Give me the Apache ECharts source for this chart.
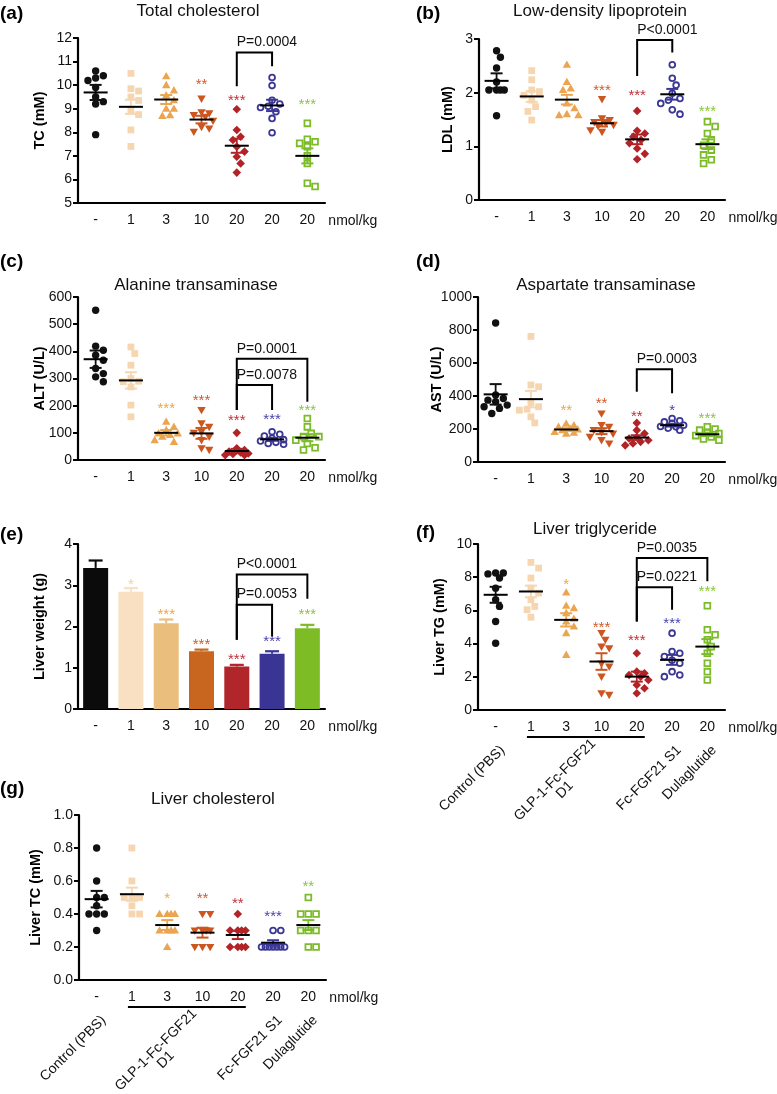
<!DOCTYPE html>
<html><head><meta charset="utf-8">
<script src="https://cdn.jsdelivr.net/npm/echarts@6/dist/echarts.min.js"></script>
<style>html,body{margin:0;padding:0;background:#fff}#c{width:777px;height:1094px}</style>
</head><body><div id="c"></div>
<script>
// ---------------- DATA ----------------
const categories = ['-', '1', '3', '10', '20', '20', '20'];
const drugLabels = ['Control (PBS)', 'GLP-1-Fc-FGF21\nD1', 'Fc-FGF21 S1', 'Dulaglutide'];

// (a) Total cholesterol (mM)
const tcValues = [
  [10.6, 10.4, 10.3, 10.2, 9.9, 9.5, 9.3, 9.2, 7.9],
  [10.5, 9.85, 9.75, 9.5, 9.35, 8.95, 8.75, 8.1, 7.4],
  [10.38, 10.0, 9.78, 9.57, 9.36, 9.0, 9.0, 8.73, 8.7],
  [9.43, 8.85, 8.8, 8.73, 8.66, 8.49, 8.23, 8.16, 8.02],
  [8.98, 8.1, 7.81, 7.67, 7.39, 7.18, 6.96, 6.68, 6.29],
  [10.32, 9.98, 9.36, 9.2, 9.1, 9.05, 8.87, 8.59, 7.98],
  [8.38, 7.7, 7.6, 7.53, 7.39, 7.0, 6.68, 5.84, 5.7]
];
const tcMean = [9.69, 9.08, 9.39, 8.54, 7.43, 9.14, 7.0];
const tcSem = [0.32, 0.3, 0.19, 0.16, 0.3, 0.24, 0.32];
const tcStars = ['', '', '', '**', '***', '', '***'];
const tcStarAt = [0, 0, 0, 10.18, 9.5, 0, 9.32];
const tcBrackets = [[4, 5, 11.38, 9.95, 10.8, 'P=0.0004']];

// (b) LDL (mM)
const ldlValues = [
  [2.78, 2.66, 2.46, 2.2, 2.05, 2.05, 2.05, 2.05, 1.57],
  [2.41, 2.24, 2.05, 2.02, 1.95, 1.86, 1.74, 1.65, 1.49],
  [2.52, 2.2, 2.08, 2.05, 1.8, 1.71, 1.6, 1.58, 1.58],
  [1.88, 1.52, 1.49, 1.45, 1.43, 1.4, 1.38, 1.3, 1.27],
  [1.66, 1.29, 1.24, 1.18, 1.12, 1.06, 0.96, 0.86, 0.76],
  [2.52, 2.27, 2.14, 1.99, 1.89, 1.86, 1.8, 1.68, 1.6],
  [1.46, 1.37, 1.24, 1.12, 1.02, 0.93, 0.84, 0.75, 0.68]
];
const ldlMean = [2.22, 1.93, 1.87, 1.43, 1.13, 1.97, 1.04];
const ldlSem = [0.14, 0.1, 0.09, 0.06, 0.09, 0.1, 0.09];
const ldlStars = ['', '', '', '***', '***', '', '***'];
const ldlStarAt = [0, 0, 0, 2.1, 2.02, 0, 1.71];
const ldlBrackets = [[4, 5, 2.98, 2.31, 2.75, 'P<0.0001']];

// (c) ALT (U/L)
const altValues = [
  [551, 419, 404, 386, 367, 337, 318, 306, 288],
  [416, 392, 349, 300, 290, 288, 269, 202, 159],
  [141, 122, 110, 98, 98, 92, 86, 73, 67],
  [184, 135, 122, 104, 100, 86, 73, 43, 37],
  [100, 43, 37, 31, 28, 24, 22, 18, 18],
  [104, 95, 88, 80, 75, 70, 65, 61, 58],
  [153, 122, 98, 86, 86, 73, 61, 45, 37]
];
const altMean = [371, 293, 100, 98, 33, 76, 82];
const altSem = [32, 30, 10, 20, 8, 5, 13];
const altStars = ['', '', '***', '***', '***', '***', '***'];
const altStarAt = [0, 0, 202, 233, 159, 163, 196];
const altBrackets = [[4, 6, 373, 184, 214, 'P=0.0001'], [4, 5, 276, 184, 184, 'P=0.0078']];

// (d) AST (U/L)
const astValues = [
  [842, 406, 385, 375, 365, 345, 335, 325, 294],
  [761, 467, 456, 360, 335, 320, 314, 274, 237],
  [233, 223, 213, 203, 197, 193, 183, 178, 172],
  [294, 223, 213, 193, 180, 172, 152, 132, 112],
  [237, 193, 172, 150, 142, 132, 122, 112, 101],
  [264, 250, 243, 235, 223, 215, 213, 205, 193],
  [213, 200, 193, 180, 172, 160, 152, 140, 132]
];
const astMean = [410, 381, 197, 187, 148, 223, 168];
const astSem = [62, 50, 8, 18, 14, 8, 10];
const astStars = ['', '', '**', '**', '**', '*', '***'];
const astStarAt = [0, 0, 335, 375, 298, 335, 284];
const astBrackets = [[4, 5, 562, 426, 416, 'P=0.0003']];

// (e) Liver weight (g) — bars
const lwMean = [3.42, 2.84, 2.08, 1.40, 1.03, 1.34, 1.96];
const lwSem = [0.18, 0.09, 0.09, 0.04, 0.04, 0.06, 0.08];
const lwStars = ['', '*', '***', '***', '***', '***', '***'];
const lwStarAt = [0, 3.1, 2.37, 1.66, 1.29, 1.72, 2.37];
const lwBrackets = [[4, 6, 3.26, 1.68, 2.67, 'P<0.0001'], [4, 5, 2.53, 1.68, 1.76, 'P=0.0053']];

// (f) Liver TG (mM)
const ltgValues = [
  [8.25, 8.25, 8.2, 7.95, 7.34, 6.64, 6.24, 5.33, 4.02],
  [8.89, 8.55, 7.95, 7.34, 7.04, 6.64, 6.24, 6.04, 5.59],
  [7.08, 6.28, 6.14, 5.84, 5.5, 5.33, 5.03, 4.63, 3.32],
  [4.63, 4.23, 3.82, 3.72, 2.8, 2.62, 2.01, 1.01, 0.91],
  [3.42, 2.31, 2.21, 2.11, 2.0, 1.81, 1.51, 1.31, 1.01],
  [4.63, 3.52, 3.42, 3.22, 3.0, 2.82, 2.31, 2.11, 2.01],
  [6.28, 4.83, 4.53, 4.23, 3.82, 3.42, 2.82, 2.31, 1.81]
];
const ltgMean = [6.94, 7.14, 5.43, 2.92, 2.01, 3.02, 3.82];
const ltgSem = [0.48, 0.35, 0.4, 0.5, 0.3, 0.3, 0.45];
const ltgStars = ['', '', '*', '***', '***', '***', '***'];
const ltgStarAt = [0, 0, 7.75, 5.17, 4.43, 5.43, 7.34];
const ltgBrackets = [[4, 6, 9.15, 5.33, 7.75, 'P=0.0035'], [4, 5, 7.4, 5.33, 6.04, 'P=0.0221']];

// (g) Liver TC (mM)
const ltcValues = [
  [0.8, 0.6, 0.5, 0.5, 0.45, 0.4, 0.4, 0.4, 0.3],
  [0.8, 0.6, 0.5, 0.5, 0.5, 0.5, 0.45, 0.4, 0.4],
  [0.4, 0.4, 0.4, 0.4, 0.3, 0.3, 0.3, 0.3, 0.2],
  [0.4, 0.4, 0.3, 0.3, 0.3, 0.3, 0.2, 0.2, 0.2],
  [0.4, 0.3, 0.3, 0.3, 0.3, 0.2, 0.2, 0.2, 0.2],
  [0.3, 0.3, 0.2, 0.2, 0.2, 0.2, 0.2, 0.2, 0.2],
  [0.5, 0.4, 0.4, 0.4, 0.3, 0.3, 0.3, 0.2, 0.2]
];
const ltcMean = [0.49, 0.52, 0.333, 0.287, 0.273, 0.226, 0.333];
const ltcSem = [0.05, 0.04, 0.03, 0.03, 0.025, 0.015, 0.03];
const ltcStars = ['', '', '*', '**', '**', '***', '**'];
const ltcStarAt = [0, 0, 0.515, 0.515, 0.485, 0.408, 0.59];

// ---------------- STYLE ----------------
const FONT = '"Liberation Sans", Arial, Helvetica, sans-serif';
const groupColors = ['#111111', '#f6d6b1', '#eba550', '#cc5620', '#b22327', '#3b3795', '#7cbc2b'];
const barColors = ['#0b0b0b', '#f9e0c2', '#eabe7c', '#c8661f', '#b0262a', '#3a3594', '#7dbc25'];
const starColors = ['#111111', '#f2cfa2', '#eba849', '#d35b2b', '#c0303a', '#4944ad', '#8ac63c'];
const markerShapes = ['circle', 'square', 'triangle', 'triangleDown', 'diamond', 'ringCircle', 'ringSquare'];

const panels = [
  {label: '(a)', title: 'Total cholesterol', yName: 'TC (mM)', kind: 'dots', values: tcValues, mean: tcMean, sem: tcSem, stars: tcStars, starAt: tcStarAt, brackets: tcBrackets, y: {min: 5, max: 12, interval: 1}},
  {label: '(b)', title: 'Low-density lipoprotein', yName: 'LDL (mM)', kind: 'dots', values: ldlValues, mean: ldlMean, sem: ldlSem, stars: ldlStars, starAt: ldlStarAt, brackets: ldlBrackets, y: {min: 0, max: 3, interval: 1}},
  {label: '(c)', title: 'Alanine transaminase', yName: 'ALT (U/L)', kind: 'dots', values: altValues, mean: altMean, sem: altSem, stars: altStars, starAt: altStarAt, brackets: altBrackets, y: {min: 0, max: 600, interval: 100}},
  {label: '(d)', title: 'Aspartate transaminase', yName: 'AST (U/L)', kind: 'dots', values: astValues, mean: astMean, sem: astSem, stars: astStars, starAt: astStarAt, brackets: astBrackets, y: {min: 0, max: 1000, interval: 200}},
  {label: '(e)', title: '', yName: 'Liver weight (g)', kind: 'bars', values: null, mean: lwMean, sem: lwSem, stars: lwStars, starAt: lwStarAt, brackets: lwBrackets, y: {min: 0, max: 4, interval: 1}},
  {label: '(f)', title: 'Liver triglyceride', yName: 'Liver TG (mM)', kind: 'dots', values: ltgValues, mean: ltgMean, sem: ltgSem, stars: ltgStars, starAt: ltgStarAt, brackets: ltgBrackets, y: {min: 0, max: 10, interval: 2}, drugs: true},
  {label: '(g)', title: 'Liver cholesterol', yName: 'Liver TC (mM)', kind: 'dots', values: ltcValues, mean: ltcMean, sem: ltcSem, stars: ltcStars, starAt: ltcStarAt, brackets: [], y: {min: 0, max: 1, interval: 0.2, fmt: 1}, drugs: true}
];

const layouts = [
  {grid: {left: 78, top: 38, width: 247, height: 165}, lab: [0, 14], tit: [198, 11], yn: 40},
  {grid: {left: 479, top: 39, width: 246, height: 161}, lab: [416, 14], tit: [600, 11], yn: 448},
  {grid: {left: 78, top: 297, width: 247, height: 163}, lab: [0, 262], tit: [196, 285], yn: 40},
  {grid: {left: 478, top: 297, width: 247, height: 165}, lab: [416, 262], tit: [606, 285], yn: 437},
  {grid: {left: 78, top: 544, width: 247, height: 165}, lab: [0, 535], tit: [0, 0], yn: 40},
  {grid: {left: 478, top: 544, width: 247, height: 166}, lab: [416, 533], tit: [595, 529], yn: 440},
  {grid: {left: 79, top: 815, width: 247, height: 165}, lab: [0, 789], tit: [213, 799], yn: 36}
];

// ---------------- HELPERS ----------------
function swarm(ys, d, maxOff) {
  const placed = [], offs = [];
  const step = d * 0.55;
  const cands = [0];
  for (let k = 1; k <= 8; k++) { cands.push(k * step, -k * step); }
  ys.forEach((y, i) => {
    let best = 0, bestScore = -Infinity;
    for (const dx of cands) {
      if (Math.abs(dx) > maxOff) continue;
      let minD = Infinity;
      for (const p of placed) { const dd = Math.hypot(p[0] - dx, p[1] - y); if (dd < minD) minD = dd; }
      if (minD >= d) { best = dx; break; }
      if (minD > bestScore) { bestScore = minD; best = dx; }
    }
    placed.push([best, y]); offs[i] = best;
  });
  return offs;
}

function marker(gi, x, y) {
  const c = groupColors[gi];
  switch (markerShapes[gi]) {
    case 'circle': return {type: 'circle', shape: {cx: x, cy: y, r: 3.7}, style: {fill: c}};
    case 'square': return {type: 'rect', shape: {x: x - 3.4, y: y - 3.4, width: 6.8, height: 6.8}, style: {fill: c}};
    case 'triangle': return {type: 'polygon', shape: {points: [[x, y - 4.3], [x + 4.2, y + 3.1], [x - 4.2, y + 3.1]]}, style: {fill: c}};
    case 'triangleDown': return {type: 'polygon', shape: {points: [[x - 4.2, y - 3.1], [x + 4.2, y - 3.1], [x, y + 4.3]]}, style: {fill: c}};
    case 'diamond': return {type: 'polygon', shape: {points: [[x, y - 4.3], [x + 4.3, y], [x, y + 4.3], [x - 4.3, y]]}, style: {fill: c}};
    case 'ringCircle': return {type: 'circle', shape: {cx: x, cy: y, r: 2.9}, style: {fill: null, stroke: c, lineWidth: 1.8}};
    default: return {type: 'rect', shape: {x: x - 2.9, y: y - 2.9, width: 5.8, height: 5.8}, style: {fill: null, stroke: c, lineWidth: 1.8}};
  }
}

function txtStyle(text, size, color, align, valign, weight) {
  return {text: text, fill: color, font: (weight || 'normal') + ' ' + size + 'px ' + FONT,
    align: align, verticalAlign: valign, textAlign: align, textVerticalAlign: valign};
}

// ---------------- OPTION ----------------
const grids = [], xAxes = [], yAxes = [], series = [];
panels.forEach((p, k) => {
  const L = layouts[k];
  grids.push(Object.assign({containLabel: false}, L.grid));
  xAxes.push({
    type: 'category', gridIndex: k, data: categories,
    axisLine: {lineStyle: {color: '#000', width: 2.2}},
    axisTick: {alignWithLabel: true, length: 5, lineStyle: {color: '#000', width: 2}},
    axisLabel: {color: '#111', fontSize: 14, fontFamily: FONT, margin: 10},
    splitLine: {show: false}
  });
  yAxes.push({
    type: 'value', gridIndex: k, min: p.y.min, max: p.y.max, interval: p.y.interval,
    axisLine: {show: true, lineStyle: {color: '#000', width: 2.2}},
    axisTick: {show: true, length: 5, lineStyle: {color: '#000', width: 2}},
    axisLabel: {color: '#111', fontSize: 14, fontFamily: FONT, margin: 6,
      formatter: p.y.fmt ? (v => v.toFixed(p.y.fmt)) : (v => String(v))},
    splitLine: {show: false}
  });

  if (p.kind === 'bars') {
    series.push({
      type: 'bar', xAxisIndex: k, yAxisIndex: k, barWidth: 25, z: 2,
      data: p.mean.map((v, i) => ({value: v, itemStyle: {color: barColors[i]}}))
    });
    series.push({
      type: 'custom', xAxisIndex: k, yAxisIndex: k, z: 3,
      data: p.mean.map((v, i) => [i, v, p.sem[i]]),
      renderItem: (params, api) => {
        const i = api.value(0);
        const a = api.coord([i, api.value(1)]);
        const b = api.coord([i, api.value(1) + api.value(2)]);
        const col = barColors[i];
        return {type: 'group', children: [
          {type: 'line', shape: {x1: a[0], y1: a[1], x2: b[0], y2: b[1]}, style: {stroke: col, lineWidth: 2}},
          {type: 'line', shape: {x1: b[0] - 7, y1: b[1], x2: b[0] + 7, y2: b[1]}, style: {stroke: col, lineWidth: 2.2}}
        ]};
      }
    });
  } else {
    const vals = p.values;
    series.push({
      type: 'custom', xAxisIndex: k, yAxisIndex: k, z: 2,
      data: vals.map((g, i) => [i, g[0]]),
      renderItem: (params, api) => {
        const gi = params.dataIndex;
        const pts = vals[gi].map(v => api.coord([gi, v]));
        const offs = swarm(pts.map(q => q[1]), 7, 12);
        return {type: 'group', children: pts.map((q, j) => marker(gi, q[0] + offs[j], q[1]))};
      }
    });
    series.push({
      type: 'custom', xAxisIndex: k, yAxisIndex: k, z: 4,
      data: p.mean.map((v, i) => [i, v, p.sem[i]]),
      renderItem: (params, api) => {
        const i = api.value(0), m = api.value(1), s = api.value(2);
        const c = api.coord([i, m]), hi = api.coord([i, m + s]), lo = api.coord([i, m - s]);
        const col = groupColors[i];
        return {type: 'group', children: [
          {type: 'line', shape: {x1: c[0], y1: hi[1], x2: c[0], y2: lo[1]}, style: {stroke: col, lineWidth: 1.8}},
          {type: 'line', shape: {x1: c[0] - 6, y1: hi[1], x2: c[0] + 6, y2: hi[1]}, style: {stroke: col, lineWidth: 2}},
          {type: 'line', shape: {x1: c[0] - 6, y1: lo[1], x2: c[0] + 6, y2: lo[1]}, style: {stroke: col, lineWidth: 2}},
          {type: 'line', shape: {x1: c[0] - 12, y1: c[1], x2: c[0] + 12, y2: c[1]}, style: {stroke: '#000', lineWidth: 2}}
        ]};
      }
    });
  }
  // significance stars
  const starIdx = p.stars.map((s, i) => s ? i : -1).filter(i => i >= 0);
  series.push({
    type: 'custom', xAxisIndex: k, yAxisIndex: k, z: 5,
    data: starIdx.map(i => [i, p.starAt[i]]),
    renderItem: (params, api) => {
      const i = api.value(0);
      const c = api.coord([i, api.value(1)]);
      return {type: 'text', x: c[0], y: c[1] + 4, style: txtStyle(p.stars[i], 15, starColors[i], 'center', 'middle')};
    }
  });
  // comparison brackets
  if (p.brackets.length) {
    series.push({
      type: 'custom', xAxisIndex: k, yAxisIndex: k, z: 5,
      data: p.brackets.map(b => [b[0], b[1], b[2], b[3], b[4]]),
      renderItem: (params, api) => {
        const b = p.brackets[params.dataIndex];
        const lb = api.coord([b[0], b[3]]), lt = api.coord([b[0], b[2]]);
        const rt = api.coord([b[1], b[2]]), rb = api.coord([b[1], b[4]]);
        return {type: 'group', children: [
          {type: 'polyline', shape: {points: [lb, lt, rt, rb]}, style: {stroke: '#000', lineWidth: 2, fill: null}},
          {type: 'text', x: lt[0], y: lt[1] - 3, style: txtStyle(b[5], 14, '#111', 'left', 'bottom')}
        ]};
      }
    });
  }
});

const chart = echarts.init(document.getElementById('c'));
chart.setOption({
  animation: false, backgroundColor: '#fff',
  grid: grids, xAxis: xAxes, yAxis: yAxes, series: series
});

// ---------------- ANNOTATION TEXT ----------------
const gfx = [];
panels.forEach((p, k) => {
  const L = layouts[k];
  gfx.push({type: 'text', x: L.lab[0], y: L.lab[1], style: txtStyle(p.label, 19, '#000', 'left', 'middle', 'bold')});
  if (p.title) gfx.push({type: 'text', x: L.tit[0], y: L.tit[1], style: txtStyle(p.title, 17, '#111', 'center', 'middle')});
  const midY = L.grid.top + L.grid.height / 2;
  gfx.push({type: 'text', x: L.yn, y: midY, rotation: Math.PI / 2, style: txtStyle(p.yName, 14.5, '#000', 'center', 'middle', 'bold')});
  const last = chart.convertToPixel({gridIndex: k}, [6, p.y.min]);
  gfx.push({type: 'text', x: last[0] + 21, y: last[1] + 18, style: txtStyle('nmol/kg', 14, '#111', 'left', 'middle')});
  if (p.drugs) {
    const px = i => chart.convertToPixel({gridIndex: k}, [i, p.y.min]);
    const axisY = px(0)[1];
    const c1 = px(1)[0], c4 = px(4)[0];
    gfx.push({type: 'line', shape: {x1: c1 - 4, y1: axisY + 27, x2: c4 + 8, y2: axisY + 27}, style: {stroke: '#000', lineWidth: 2}});
    const rot = Math.PI / 4;
    gfx.push({type: 'text', x: px(0)[0] + 7, y: axisY + 38, rotation: rot, style: txtStyle(drugLabels[0], 14, '#111', 'right', 'middle')});
    gfx.push({type: 'text', x: (c1 + c4) / 2 - 24, y: axisY + 75, rotation: rot, style: Object.assign(txtStyle(drugLabels[1], 14, '#111', 'center', 'middle'), {lineHeight: 14})});
    gfx.push({type: 'text', x: px(5)[0] + 7, y: axisY + 38, rotation: rot, style: txtStyle(drugLabels[2], 14, '#111', 'right', 'middle')});
    gfx.push({type: 'text', x: px(6)[0] + 7, y: axisY + 38, rotation: rot, style: txtStyle(drugLabels[3], 14, '#111', 'right', 'middle')});
  }
});
chart.setOption({graphic: gfx});
</script>
</body></html>
